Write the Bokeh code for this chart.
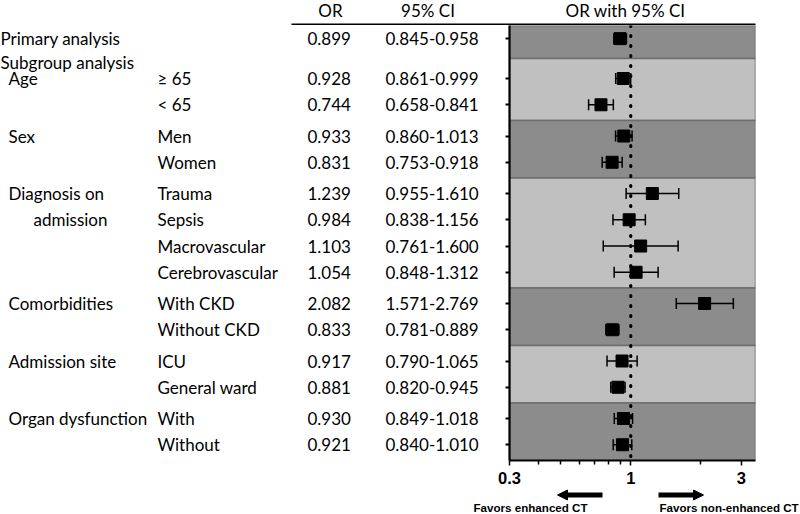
from bokeh.plotting import figure
from bokeh.layouts import column, row
from bokeh.models import (ColumnDataSource, Range1d, FixedTicker, BoxAnnotation,
                          Span, Whisker, TeeHead, Arrow, NormalHead,
                          CustomJSTickFormatter)
from bokeh.core.properties import value
from bokeh.embed import file_html
from bokeh.resources import INLINE

# ---------------- data ----------------
groups = ["Primary analysis", "Age", "Age", "Sex", "Sex",
          "Diagnosis on admission", "Diagnosis on admission",
          "Diagnosis on admission", "Diagnosis on admission",
          "Comorbidities", "Comorbidities", "Admission site", "Admission site",
          "Organ dysfunction", "Organ dysfunction"]
subgroups = ["", "≥ 65", "< 65", "Men", "Women", "Trauma", "Sepsis",
             "Macrovascular", "Cerebrovascular", "With CKD", "Without CKD",
             "ICU", "General ward", "With", "Without"]
or_vals = [0.899, 0.928, 0.744, 0.933, 0.831, 1.239, 0.984, 1.103, 1.054,
           2.082, 0.833, 0.917, 0.881, 0.930, 0.921]
ci_lo = [0.845, 0.861, 0.658, 0.860, 0.753, 0.955, 0.838, 0.761, 0.848,
         1.571, 0.781, 0.790, 0.820, 0.849, 0.840]
ci_hi = [0.958, 0.999, 0.841, 1.013, 0.918, 1.610, 1.156, 1.600, 1.312,
         2.769, 0.889, 1.065, 0.945, 1.018, 1.010]
x_ticks = [0.3, 1, 3]
x_minor_ticks = [0.4, 0.5, 0.6, 0.7, 0.8, 0.9, 2]
col_headers = ["OR", "95% CI", "OR with 95% CI"]
subgroup_title = "Subgroup analysis"
favors = ["Favors enhanced CT", "Favors non-enhanced CT"]
group_lines = {"Diagnosis on admission": ["Diagnosis on", "admission"]}

# ---------------- layout constants ----------------
W = 800
H_HDR, H_MAIN, H_FOOT = 25, 463, 26
T_W = 497                 # table panel width
P_BL, P_BR, P_BB = 12, 45, 28
FONT = "Lato"
FS = "17px"

rows = []
for i, g in enumerate(groups):
    if i == 0:
        yv = 0.0
    elif i == 1:
        yv = rows[-1] + 1.52
    elif g != groups[i - 1]:
        yv = rows[-1] + 1.19
    else:
        yv = rows[-1] + 1.0
    rows.append(yv)

top_edge = rows[0] - 0.5
bot_edge = rows[-1] + 0.6

starts = [i for i in range(len(groups)) if i == 0 or groups[i] != groups[i - 1]]
edges = [top_edge]
for s in starts[1:]:
    edges.append((rows[s - 1] + rows[s]) / 2)
edges.append(bot_edge)

src = ColumnDataSource(dict(
    y=rows, orv=or_vals, lo=ci_lo, hi=ci_hi, sub=subgroups,
    or_txt=[f"{v:.3f}" for v in or_vals],
    ci_txt=[f"{a:.3f}-{b:.3f}" for a, b in zip(ci_lo, ci_hi)],
))

gl_y, gl_t, gl_x = [], [], []
for k, s in enumerate(starts):
    lines = group_lines.get(groups[s], [groups[s]])
    for j, ln in enumerate(lines):
        gl_y.append(rows[s + j])
        gl_t.append(ln)
        gl_x.append((0 if k == 0 else 8) + (25 if j > 0 else 0))
gl_y.append(rows[1] - 0.62)
gl_t.append(subgroup_title)
gl_x.append(0)
gsrc = ColumnDataSource(dict(x=gl_x, y=gl_y, t=gl_t))

yr = Range1d(bot_edge, top_edge)

def bare(width, height, xr, y_range, **kw):
    f = figure(width=width, height=height, x_range=xr, y_range=y_range,
               output_backend="svg", toolbar_location=None, title=None,
               x_axis_location=None, y_axis_location=None,
               outline_line_color=None, background_fill_color="white",
               border_fill_color="white", **kw)
    f.xgrid.visible = False
    f.ygrid.visible = False
    return f

txt = dict(text_font=value(FONT), text_font_size=value(FS), text_color="black",
           text_baseline="middle")

# ---------------- header strip ----------------
hdr = bare(W, H_HDR, Range1d(0, W), Range1d(H_HDR, 0), min_border=0)
hdr.text(x=[330, 427.5, 625], y=[9.5] * 3, text=col_headers,
         text_align="center", **txt)
hdr.segment(x0=[291], x1=[755], y0=[24], y1=[24], line_width=2, line_color="black")

# ---------------- table panel ----------------
tab = bare(T_W, H_MAIN, Range1d(0, T_W), yr, min_border_left=0,
           min_border_right=0, min_border_top=0, min_border_bottom=P_BB)
tab.text(x="x", y="y", text="t", source=gsrc, **txt)
tab.text(x=157, y="y", text="sub", source=src, **txt)
tab.text(x=307, y="y", text="or_txt", source=src, **txt)
tab.text(x=385, y="y", text="ci_txt", source=src, **txt)

# ---------------- forest panel ----------------
p = figure(width=W - T_W, height=H_MAIN, x_axis_type="log",
           x_range=Range1d(0.3, 3.45), y_range=yr,
           output_backend="svg", toolbar_location=None, title=None,
           min_border_left=P_BL, min_border_right=P_BR,
           min_border_top=0, min_border_bottom=P_BB,
           outline_line_color=None, background_fill_color="white",
           border_fill_color="white")
p.xgrid.visible = False
p.ygrid.visible = False

for k in range(len(starts)):
    p.add_layout(BoxAnnotation(top=edges[k], bottom=edges[k + 1],
                               fill_color="#8c8c8c" if k % 2 == 0 else "#c0c0c0",
                               fill_alpha=1, line_color="#6e6e6e", line_alpha=1,
                               line_width=1.5, level="image"))

p.add_layout(Span(location=1, dimension="height", line_color="black",
                  line_width=3.2, line_dash="1 9", line_cap="round",
                  level="underlay"))

p.add_layout(Whisker(source=src, base="y", lower="lo", upper="hi",
                     dimension="width", line_width=1.5, line_color="black",
                     level="underlay",
                     lower_head=TeeHead(size=11, line_width=1.5, line_color="black"),
                     upper_head=TeeHead(size=11, line_width=1.5, line_color="black")))

p.scatter(x="orv", y="y", source=src, marker="square", size=12,
          fill_color="black", line_color="black")

ya = p.yaxis[0]
ya.ticker = FixedTicker(ticks=rows)
ya.formatter = CustomJSTickFormatter(code="return '';")
ya.major_label_standoff = 0
ya.major_tick_in = 0
ya.major_tick_out = 4
ya.major_tick_line_width = 2
ya.axis_line_width = 2.2
ya.minor_tick_line_color = None

xa = p.xaxis[0]
xa.ticker = FixedTicker(ticks=x_ticks, minor_ticks=x_minor_ticks)
xa.major_label_overrides = {0.3: "0.3", 1: "1", 3: "3"}
xa.major_label_text_font = "Liberation Sans"
xa.major_label_text_font_style = "bold"
xa.major_label_text_font_size = "16.5px"
xa.major_label_text_color = "black"
xa.major_label_standoff = 6
xa.axis_line_width = 2.2
xa.major_tick_in = 0
xa.major_tick_out = 5
xa.minor_tick_in = 0
xa.minor_tick_out = 4
xa.major_tick_line_width = 1.5
xa.minor_tick_line_width = 1.5

# ---------------- footer strip ----------------
foot = bare(W, H_FOOT, Range1d(0, W), Range1d(H_FOOT, 0), min_border=0)
for xs, xe in [(602, 557), (658, 703)]:
    foot.add_layout(Arrow(x_start=xs, x_end=xe, y_start=6.5, y_end=6.5,
                          start=None,
                          end=NormalHead(size=10, fill_color="black",
                                         line_color="black", line_width=1),
                          line_width=5, line_color="black"))
foot.text(x=[473, 659], y=[18.5, 18.5], text=favors, text_align="left",
          text_baseline="middle", text_font=value("Liberation Sans"),
          text_font_style="bold", text_font_size=value("11.6px"),
          text_color="black")

layout = column(hdr, row(tab, p), foot)
open("out.html", "w").write(file_html(layout, INLINE))
